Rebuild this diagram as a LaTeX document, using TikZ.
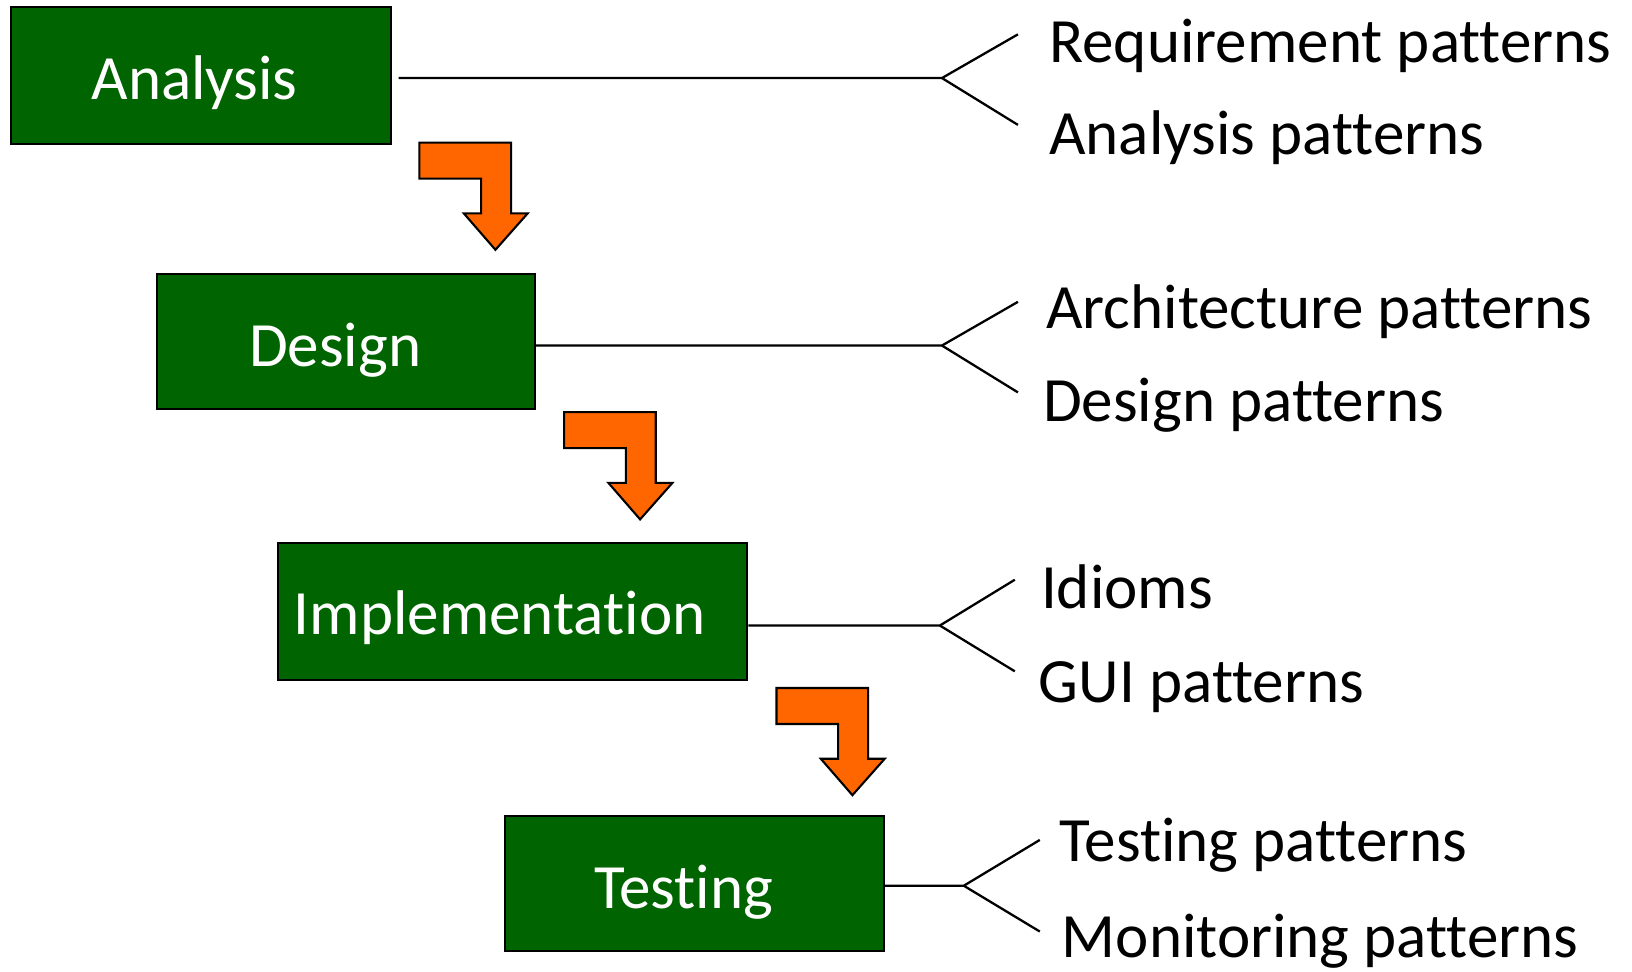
\documentclass[tikz,border=0pt]{standalone}
\usepackage{fontspec}
\setmainfont{Carlito}[Ligatures=NoCommon]
\definecolor{boxgreen}{RGB}{0,100,0}
\definecolor{arroworange}{RGB}{255,102,0}
\begin{document}
\begin{tikzpicture}[x=1pt,y=-1pt,
  stage/.style={draw=black,line width=2pt,fill=boxgreen,inner sep=0pt,anchor=north west},
  stagetext/.style={text=white,inner sep=0pt,anchor=base,font=\fontsize{60.6pt}{72pt}\selectfont},
  pattern/.style={text=black,inner sep=0pt,anchor=base west,font=\fontsize{60.6pt}{72pt}\selectfont},
  conn/.style={draw=black,line width=2.2pt},
  bentarrow/.pic={\draw[fill=arroworange,draw=black,line width=2pt,line join=miter]
     (0,0) -- (88,0) -- (88,68) -- (104,68) -- (73,103) -- (42.6,68) -- (59.3,68) -- (59.3,34.6) -- (0,34.6) -- cycle;}
]
\useasboundingbox (0,0) rectangle (1568,933);

% stage boxes
\node[stage,minimum width=365pt,minimum height=131pt] (ana) at (10,6) {};
\node[stage,minimum width=363pt,minimum height=130pt] (des) at (150,262) {};
\node[stage,minimum width=451pt,minimum height=131pt] (imp) at (266,521) {};
\node[stage,minimum width=364pt,minimum height=130pt] (tst) at (484,783) {};

\node[stagetext] (anaT) at (187,96) {Analysis};
\node[stagetext] (desT) at (322,352) {Design};
\node[stagetext] (impT) at (480,610) {Implementation};
\node[stagetext] (tstT) at (657,873) {Testing};

% bent arrows
\pic at (403,137) {bentarrow};
\pic at (542,396) {bentarrow};
\pic at (746,661) {bentarrow};

% pattern labels
\node[pattern] (reqP) at (1008,60) {Requirement patterns};
\node[pattern] (anaP) at (1008,148) {Analysis patterns};
\node[pattern] (arcP) at (1005,316) {Architecture patterns};
\node[pattern] (desP) at (1002,405) {Design patterns};
\node[pattern] (idiP) at (1000,585) {Idioms};
\node[pattern] (guiP) at (998,675) {GUI patterns};
\node[pattern] (tesP) at (1018,828) {Testing patterns};
\node[pattern] (monP) at (1020,920) {Monitoring patterns};

% connectors
\coordinate (anaS) at (383,75);
\coordinate (anaF) at (905,75);
\coordinate (anaU) at (978,33);
\coordinate (anaD) at (978,120);
\draw[conn] (anaS) -- (anaF) -- (anaU);
\draw[conn] (anaF) -- (anaD);

\coordinate (desS) at (des.east |- 0,332);
\coordinate (desF) at (905,332);
\coordinate (desU) at (978,290);
\coordinate (desD) at (978,377);
\draw[conn] (desS) -- (desF) -- (desU);
\draw[conn] (desF) -- (desD);

\coordinate (impS) at (imp.east |- 0,601);
\coordinate (impF) at (903,601);
\coordinate (impU) at (975,557);
\coordinate (impD) at (975,645);
\draw[conn] (impS) -- (impF) -- (impU);
\draw[conn] (impF) -- (impD);

\coordinate (tstS) at (tst.east |- 0,851);
\coordinate (tstF) at (926,851);
\coordinate (tstU) at (999,807);
\coordinate (tstD) at (999,895);
\draw[conn] (tstS) -- (tstF) -- (tstU);
\draw[conn] (tstF) -- (tstD);
\end{tikzpicture}
\end{document}
